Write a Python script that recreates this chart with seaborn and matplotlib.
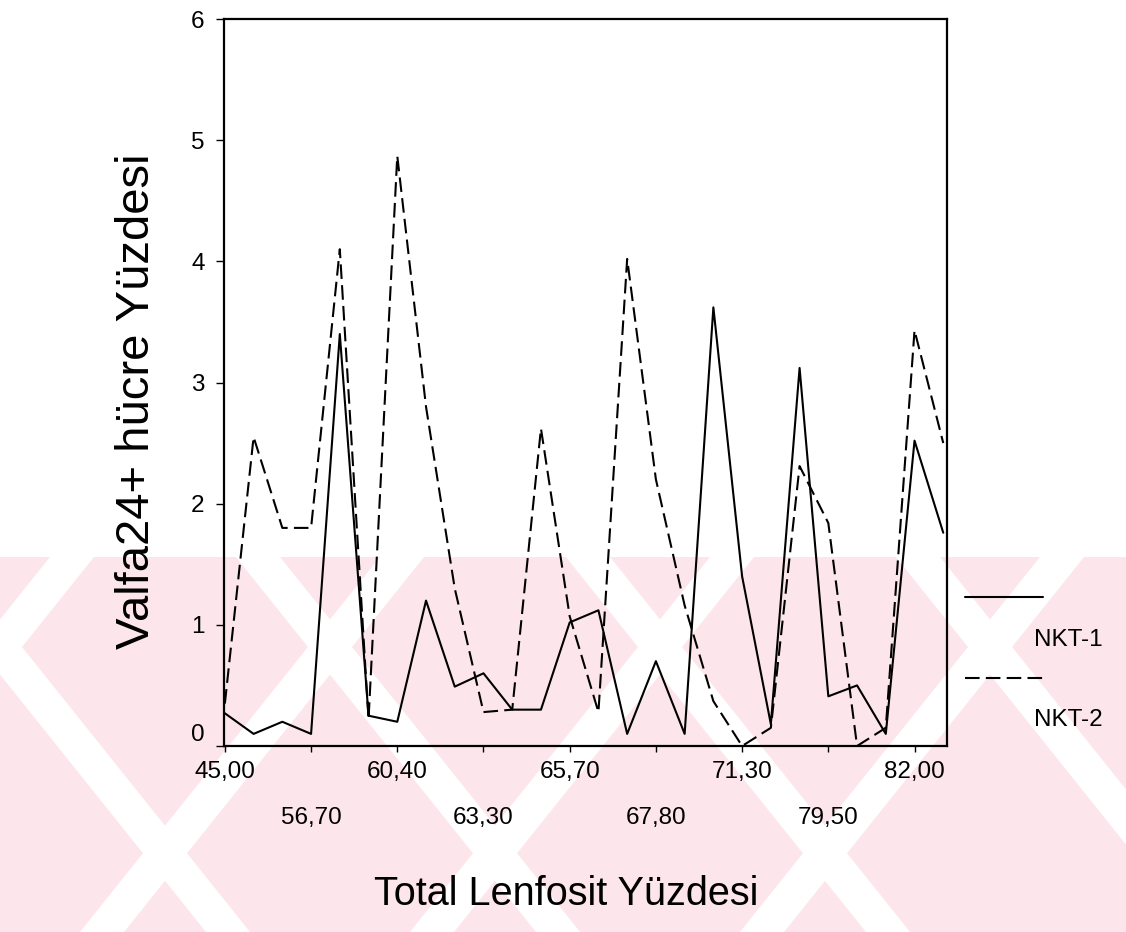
import matplotlib
matplotlib.use("Agg")
import matplotlib.pyplot as plt
from matplotlib.lines import Line2D
from matplotlib.patches import Polygon, Rectangle
import numpy as np
import pandas as pd
import seaborn as sns

# Tick labels shown on the category axis (every third category is labelled)
tick_labels_top = ["45,00", "60,40", "65,70", "71,30", "82,00"]
tick_labels_bottom = ["56,70", "63,30", "67,80", "79,50"]

# Valfa24+ cell percentages per lymphocyte category (26 categories)
nkt1 = [0.27, 0.10, 0.20, 0.10, 3.40, 0.25, 0.20, 1.20, 0.49, 0.60, 0.30, 0.30, 1.02,
        1.12, 0.10, 0.70, 0.10, 3.62, 1.40, 0.18, 3.12, 0.41, 0.50, 0.10, 2.52, 1.76]
nkt2 = [0.35, 2.55, 1.80, 1.80, 4.10, 0.22, 4.87, 2.80, 1.30, 0.28, 0.30, 2.62, 1.07,
        0.28, 4.02, 2.20, 1.16, 0.37, 0.00, 0.15, 2.31, 1.84, 0.00, 0.15, 3.43, 2.50]
series_names = ["NKT-1", "NKT-2"]

n = len(nkt1)
df = pd.DataFrame({
    "pos": list(range(n)) * 2,
    "value": nkt1 + nkt2,
    "series": [series_names[0]] * n + [series_names[1]] * n,
})

sns.set_theme(style="white")
plt.rcParams["font.family"] = ["Liberation Sans", "DejaVu Sans"]
plt.rcParams["text.color"] = "black"
plt.rcParams["axes.labelcolor"] = "black"

W, H = 1126, 932
fig = plt.figure(figsize=(W / 100, H / 100), dpi=100)
fig.patch.set_facecolor("white")

def fx(px):
    return px / W

def fy(py):
    return 1 - py / H

# Pale pink background pattern in the lower part of the page
pink = "#fce6eb"
fig.add_artist(Rectangle((0, 0), 1, fy(557), transform=fig.transFigure,
                         facecolor=pink, edgecolor="none", zorder=-2))
slope, half_w, cy = 1.25, 22, 647
for cx in [0, 330, 660, 990]:
    for sign in (1, -1):
        xa = cx + sign * (557 - cy) / slope
        xb = cx + sign * (932 - cy) / slope
        pts = [(fx(xa - half_w), fy(557)), (fx(xa + half_w), fy(557)),
               (fx(xb + half_w), fy(932)), (fx(xb - half_w), fy(932))]
        fig.add_artist(Polygon(pts, closed=True, transform=fig.transFigure,
                               facecolor="white", edgecolor="none", zorder=-1))

ax = fig.add_axes([fx(224), fy(746), fx(947) - fx(224), fy(19) - fy(746)])
ax.set_facecolor("none")

sns.lineplot(data=df, x="pos", y="value", style="series",
             dashes={series_names[0]: "", series_names[1]: (7, 3)},
             color="black", linewidth=1.5, legend=False, ax=ax, zorder=3)

ax.set_xlim(-0.03, 25.13)
ax.set_ylim(0, 6)

# Axis frame
for side in ["left", "bottom", "top", "right"]:
    ax.spines[side].set_visible(True)
    ax.spines[side].set_color("black")
    ax.spines[side].set_linewidth(1.6)

# Y ticks
ax.set_yticks(range(0, 7))
ax.set_yticklabels([str(v) for v in range(0, 7)])
ax.tick_params(axis="y", which="major", direction="out", length=6, width=1.0,
               pad=8, labelsize=17.5, colors="black", left=True)
ax.get_yticklabels()[0].set_va("bottom")

# Staggered x tick labels: upper row as major ticks, lower row as minor ticks
top_pos = [0, 6, 12, 18, 24]
bot_pos = [3, 9, 15, 21]
ax.set_xticks(top_pos)
ax.set_xticklabels(tick_labels_top)
ax.set_xticks(bot_pos, minor=True)
ax.set_xticklabels(tick_labels_bottom, minor=True)
ax.tick_params(axis="x", which="major", direction="out", length=4, width=1.0,
               pad=7, labelsize=17.5, colors="black", bottom=True)
ax.tick_params(axis="x", which="minor", direction="out", length=4, width=1.0,
               pad=40, labelsize=17.5, colors="black", bottom=True)

ax.set_xlabel("Total Lenfosit Yüzdesi", fontsize=28.5, color="black")
ax.xaxis.set_label_coords((566 - 224) / 723, (746 - 875) / 727)
ax.set_ylabel("Valfa24+ hücre Yüzdesi", fontsize=34, color="black")
ax.yaxis.set_label_coords((159 - 224) / 723, (746 - 401) / 727)

# Legend placed to the right of the plot: sample line above, name below
fig.add_artist(Line2D([fx(965), fx(1043)], [fy(597), fy(597)], color="black",
                      linewidth=1.5))
fig.add_artist(Line2D([fx(965), fx(1043)], [fy(678), fy(678)], color="black",
                      linewidth=1.5, dashes=(7, 3)))
fig.text(fx(1103), fy(640), series_names[0], ha="right", va="center",
         fontsize=17.5, color="black")
fig.text(fx(1103), fy(720), series_names[1], ha="right", va="center",
         fontsize=17.5, color="black")

fig.savefig("out.png", dpi=100, facecolor="white")
